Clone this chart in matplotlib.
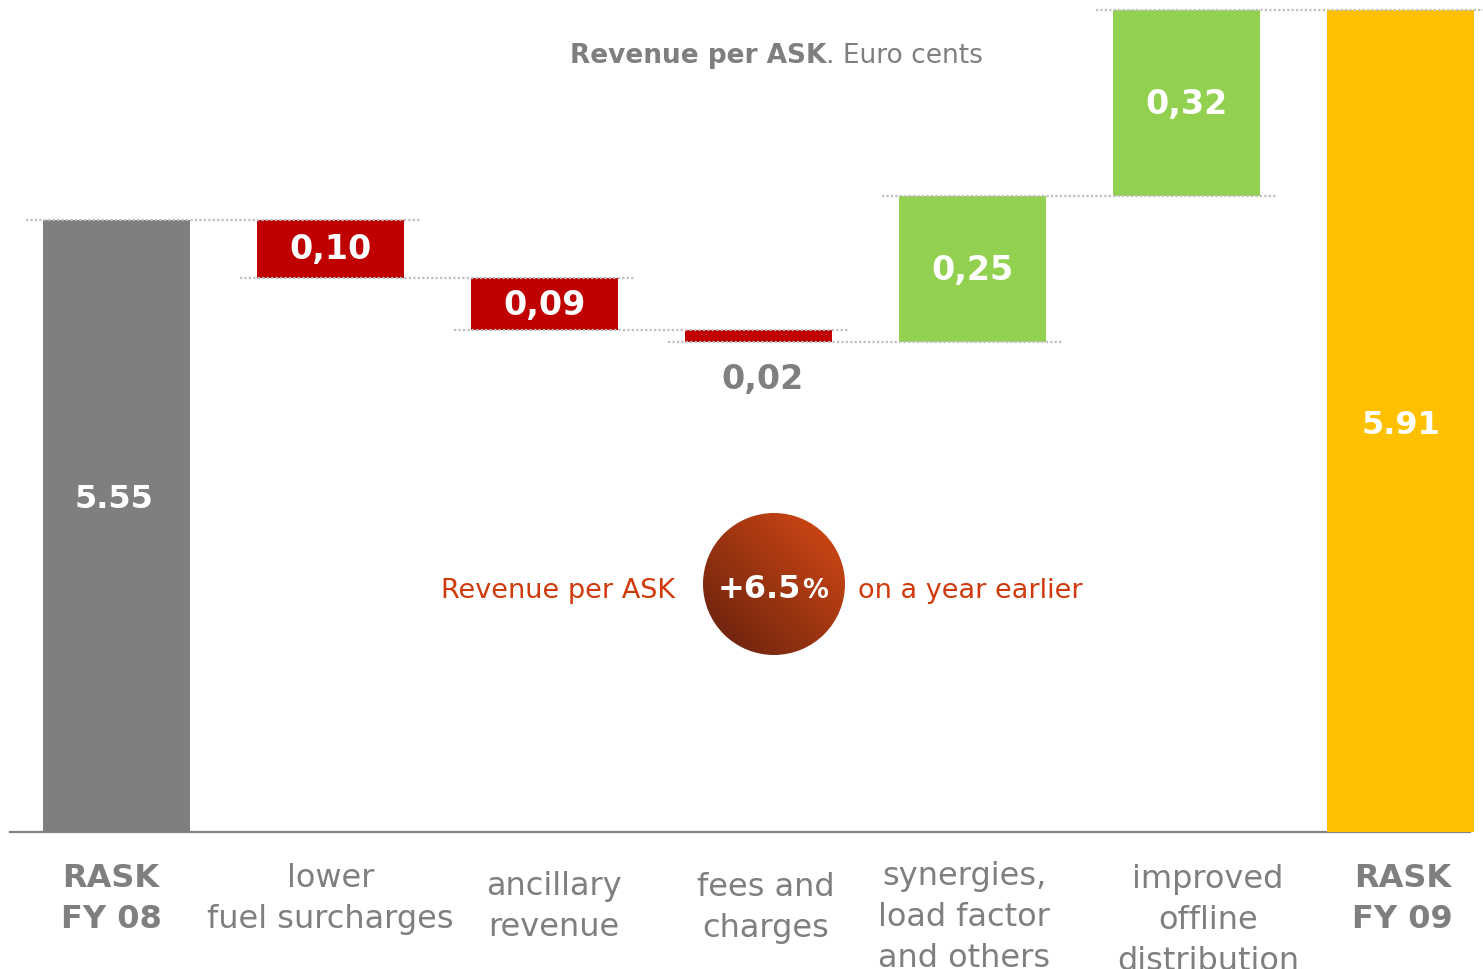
import numpy as np
import matplotlib
matplotlib.use("Agg")
import matplotlib.pyplot as plt
from matplotlib.patches import Circle
from matplotlib.transforms import blended_transform_factory

# ---------------- data ----------------
categories = ["RASK\nFY 08", "lower\nfuel surcharges", "ancillary\nrevenue",
              "fees and\ncharges", "synergies,\nload factor\nand others",
              "improved\noffline\ndistribution", "RASK\nFY 09"]
start_value = 5.55
deltas = [-0.10, -0.09, -0.02, 0.25, 0.32]
end_value = 5.91
start_label = "5.55"
end_label = "5.91"
delta_labels = ["0,10", "0,09", "0,02", "0,25", "0,32"]
axis_floor = 4.5
change_value = "+6.5"
change_unit = "%"
title_bold = "Revenue per ASK"
title_rest = ". Euro cents"
callout_left = "Revenue per ASK"
callout_right = "on a year earlier"

# ---------------- style ----------------
GRAY_BAR = "#7F7F7F"
RED = "#C00000"
GREEN = "#92D050"
YELLOW = "#FFC000"
TXT_GRAY = "#7F7F7F"
DOT = "#BFBFBF"
ORANGE_TXT = "#D03A0C"

plt.rcParams["font.family"] = ["DejaVu Sans"]

W, H = 1483, 970
fig = plt.figure(figsize=(W / 100, H / 100), dpi=100)
ax = fig.add_axes([0, 0, 1, 1])
ax.set_xlim(-0.5444, 6.3855)
ax.set_ylim(4.2640, 5.9290)
ax.axis("off")

ov = fig.add_axes([0, 0, 1, 1], zorder=5)
ov.set_xlim(0, W)
ov.set_ylim(H, 0)
ov.axis("off")
ov.patch.set_alpha(0)

# x in data, y in pixels
xd_ypx = blended_transform_factory(ax.transData, ov.transData)

bw = 0.687
n = len(categories)
x = np.arange(n)
levels = [start_value] + list(start_value + np.cumsum(deltas))

# baseline
ax.axhline(axis_floor, xmin=10 / W, xmax=1470 / W, color="#808080", lw=1.6, zorder=1)

# total bars
ax.bar(x[0], start_value - axis_floor, bottom=axis_floor, width=bw, color=GRAY_BAR, zorder=2)
ax.bar(x[-1], end_value - axis_floor, bottom=axis_floor, width=bw, color=YELLOW, zorder=2)

# delta bars
for i, d in enumerate(deltas):
    lo = min(levels[i], levels[i + 1])
    ax.bar(x[i + 1], abs(d), bottom=lo, width=bw,
           color=RED if d < 0 else GREEN, zorder=2)

# dotted connectors
pad = 0.08
for i in range(n - 1):
    lvl = levels[i]
    ax.plot([x[i] - bw / 2 - pad, x[i + 1] + bw / 2 + pad], [lvl, lvl],
            color=DOT, lw=1.6, ls=(0, (1, 1)), zorder=3)

# value labels
ax.text(x[0] - 0.01, axis_floor + (start_value - axis_floor) * 0.545, start_label,
        ha="center", va="center", color="white", fontsize=23, fontweight="bold", zorder=4)
ax.text(x[-1], axis_floor + (end_value - axis_floor) * 0.495, end_label,
        ha="center", va="center", color="white", fontsize=23, fontweight="bold", zorder=4)
for i, (d, lab) in enumerate(zip(deltas, delta_labels)):
    lo = min(levels[i], levels[i + 1])
    if abs(d) >= 0.05:
        ax.text(x[i + 1], lo + abs(d) / 2, lab, ha="center", va="center",
                color="white", fontsize=24, fontweight="bold", zorder=4)
    else:
        ax.text(x[i + 1] + 0.02, lo - 0.062, lab, ha="center", va="center",
                color=TXT_GRAY, fontsize=24, fontweight="bold", zorder=4)

# category labels
label_dx = [-0.025, 0.0, 0.045, 0.035, -0.04, 0.10, 0.01]
label_base = [887, 887, 895, 896, 885, 888, 887]
for i, lab in enumerate(categories):
    bold = lab.startswith("RASK")
    fs = 23
    em = fs * 100 / 72
    top = label_base[i] - 0.76 * em
    ax.text(x[i] + label_dx[i], top, lab, transform=xd_ypx, ha="center", va="top",
            multialignment="center", color=TXT_GRAY, fontsize=fs,
            fontweight="bold" if bold else "normal", linespacing=1.42)

# title
t1 = ov.text(570, 63, title_bold, ha="left", va="baseline", color=TXT_GRAY,
             fontsize=19, fontweight="bold")
ov.annotate(title_rest, xy=(1, 0), xycoords=t1, ha="left", va="bottom",
            color=TXT_GRAY, fontsize=19)

# gradient circle
cx, cy, r = 774, 585, 71
N = 256
ii, jj = np.mgrid[0:N, 0:N]
t = (jj + (N - 1 - ii)) / (2 * (N - 1))
dark = np.array([0x62, 0x20, 0x0E]) / 255
bright = np.array([0xD8, 0x4A, 0x14]) / 255
img = dark[None, None, :] + t[..., None] * (bright - dark)[None, None, :]
im = ov.imshow(img, extent=(cx - r, cx + r, cy + r, cy - r), origin="upper",
               aspect="auto", zorder=2, interpolation="bilinear")
circ = Circle((cx, cy), r, transform=ov.transData, facecolor="none", edgecolor="none")
ov.add_patch(circ)
im.set_clip_path(circ)
ov.set_xlim(0, W)
ov.set_ylim(H, 0)

ov.text(801, 598, change_value, ha="right", va="baseline", color="white",
        fontsize=23, fontweight="bold", zorder=3)
ov.text(802, 598, change_unit, ha="left", va="baseline", color="white",
        fontsize=18.5, fontweight="bold", zorder=3)

ov.text(675, 598, callout_left, ha="right", va="baseline", color=ORANGE_TXT, fontsize=19.5)
ov.text(858, 598, callout_right, ha="left", va="baseline", color=ORANGE_TXT, fontsize=19.5)

fig.savefig("out.png", dpi=100, facecolor="white")
